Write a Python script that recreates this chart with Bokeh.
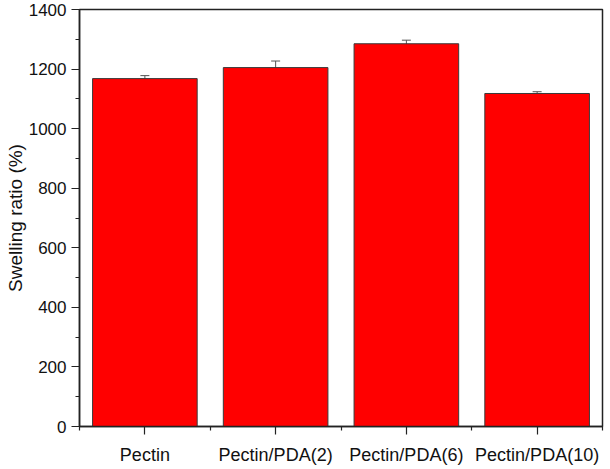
from bokeh.plotting import figure
from bokeh.models import ColumnDataSource, Range1d, FixedTicker, Whisker, TeeHead
from bokeh.embed import file_html
from bokeh.resources import INLINE

categories = ["Pectin", "Pectin/PDA(2)", "Pectin/PDA(6)", "Pectin/PDA(10)"]
swelling = [1168, 1205, 1285, 1118]
errors = [10, 22, 12, 6]
y_ticks = [0, 200, 400, 600, 800, 1000, 1200, 1400]
y_minor = [100, 300, 500, 700, 900, 1100, 1300]

xpos = list(range(1, len(categories) + 1))
src = ColumnDataSource(dict(
    x=xpos, top=swelling,
    upper=[v + e for v, e in zip(swelling, errors)],
    lower=[v - e for v, e in zip(swelling, errors)],
))

FONT = "Liberation Sans"
p = figure(width=608, height=467, output_backend="svg", toolbar_location=None,
           x_range=Range1d(0.5, len(categories) + 0.5), y_range=Range1d(0, 1400),
           min_border_left=79, min_border_right=6, min_border_top=9, min_border_bottom=39)

p.vbar(x="x", top="top", width=0.8, source=src, fill_color="#ff0000",
       line_color="#3a3a3a", line_width=1)
w = Whisker(base="x", upper="upper", lower="lower", source=src,
            line_color="#555555", line_width=1,
            upper_head=TeeHead(size=9, line_color="#555555", line_width=1),
            lower_head=TeeHead(size=9, line_color="#555555", line_width=1))
p.add_layout(w)

p.xgrid.visible = False
p.ygrid.visible = False
p.outline_line_color = "#222222"
p.outline_line_width = 1.5

xa = p.xaxis[0]
xa.ticker = FixedTicker(ticks=xpos, minor_ticks=[0.5 + i for i in range(len(categories) + 1)])
xa.major_label_overrides = {i: c for i, c in zip(xpos, categories)}
ya = p.yaxis[0]
ya.ticker = FixedTicker(ticks=y_ticks, minor_ticks=y_minor)
ya.axis_label = "Swelling ratio (%)"

for ax in (xa, ya):
    ax.axis_line_color = "#222222"
    ax.axis_line_width = 1.5
    ax.major_tick_line_color = "#222222"
    ax.minor_tick_line_color = "#222222"
    ax.major_tick_line_width = 1.2
    ax.minor_tick_line_width = 1.2
    ax.major_tick_out = 8
    ax.major_tick_in = 0
    ax.minor_tick_out = 4
    ax.minor_tick_in = 0
    ax.major_label_text_font = FONT
    ax.major_label_text_color = "#111111"
    ax.axis_label_text_font = FONT
    ax.axis_label_text_font_style = "normal"
    ax.axis_label_text_color = "#111111"

xa.major_label_text_font_size = "18px"
xa.major_label_standoff = 10
ya.major_label_text_font_size = "17px"
ya.major_label_standoff = 5
ya.axis_label_text_font_size = "19px"
ya.axis_label_standoff = 0

open("out.html", "w").write(file_html(p, INLINE))
